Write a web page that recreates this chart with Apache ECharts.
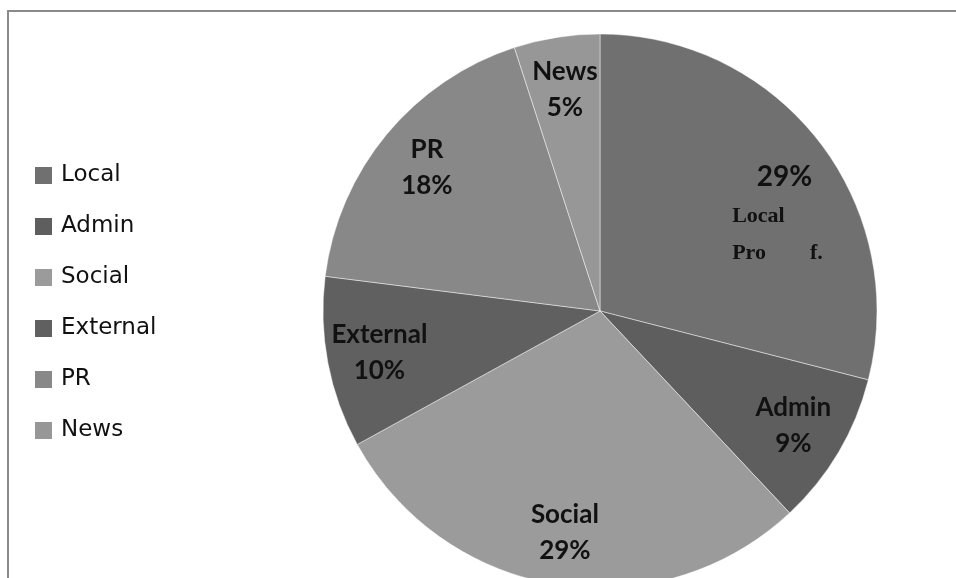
<!DOCTYPE html>
<html>
<head>
<meta charset="utf-8">
<style>
  html, body { margin: 0; padding: 0; background: #fff; }
  #chart { width: 956px; height: 578px; }
</style>
<script src="https://cdn.jsdelivr.net/npm/echarts@6/dist/echarts.min.js"></script>
</head>
<body>
<div id="chart"></div>
<script>
// data
const categories = ["Local", "Admin", "Social", "External", "PR", "News"];
const shares = [29, 9, 29, 10, 18, 5];
const sliceColors = ["#707070", "#5e5e5e", "#9b9b9b", "#606060", "#888888", "#979797"];
// extra note written inside the Local slice
const localNote = ["Local", "Pro        f."];

const R = 277;
const chart = echarts.init(document.getElementById("chart"));

const pieData = categories.map((name, i) => ({
  name: name,
  value: shares[i],
  itemStyle: { color: sliceColors[i] },
}));

// transparent ring just for the labels, so they sit out near the rim
const labelData = categories.map((name, i) => {
  const item = { name: name, value: shares[i] };
  if (name === "Local") {
    item.label = {
      formatter: "{p|{d}%}\n" + localNote.map((t) => "{t|" + t + "}").join("\n"),
      offset: [0, 41],
    };
  }
  return item;
});

const options = {
  animation: false,
  graphic: [
    {
      type: "rect",
      shape: { x: 8, y: 11, width: 1000, height: 620 },
      style: { fill: "none", stroke: "#8a8a8a", lineWidth: 2 },
      z: -1,
    },
  ],
  legend: {
    orient: "vertical",
    left: 30,
    top: 159,
    padding: 5,
    data: categories,
    icon: "rect",
    itemWidth: 17,
    itemHeight: 17,
    itemGap: 28,
    selectedMode: false,
    itemStyle: { borderWidth: 0 },
    textStyle: {
      fontFamily: "DejaVu Sans",
      fontSize: 23,
      lineHeight: 17,
      color: "#111",
      padding: [0, 0, 0, 4],
    },
  },
  series: [
    {
      type: "pie",
      center: [600, 311],
      radius: [0, R],
      startAngle: 90,
      clockwise: true,
      data: pieData,
      label: { show: false },
      labelLine: { show: false },
      itemStyle: { borderColor: "rgba(255,255,255,0.45)", borderWidth: 1 },
      emphasis: { scale: false },
      silent: true,
    },
    {
      type: "pie",
      center: [600, 311],
      radius: [R * 0.6, R],
      startAngle: 90,
      clockwise: true,
      data: labelData,
      percentPrecision: 0,
      silent: true,
      legendHoverLink: false,
      itemStyle: { color: "rgba(0,0,0,0)", borderWidth: 0 },
      labelLine: { show: false },
      emphasis: { scale: false, disabled: true },
      label: {
        show: true,
        position: "inside",
        formatter: "{b}\n{d}%",
        fontFamily: "Lato",
        fontWeight: "bold",
        fontSize: 26,
        lineHeight: 36,
        color: "#111",
        rich: {
          p: {
            fontFamily: "Lato",
            fontWeight: "bold",
            fontSize: 28,
            lineHeight: 40,
            color: "#111",
            align: "center",
            padding: [0, 0, 0, 14],
          },
          t: {
            fontFamily: "Liberation Serif",
            fontWeight: "bold",
            fontSize: 22,
            lineHeight: 37,
            color: "#111",
            align: "left",
          },
        },
      },
    },
  ],
};

chart.setOption(options);
</script>
</body>
</html>
